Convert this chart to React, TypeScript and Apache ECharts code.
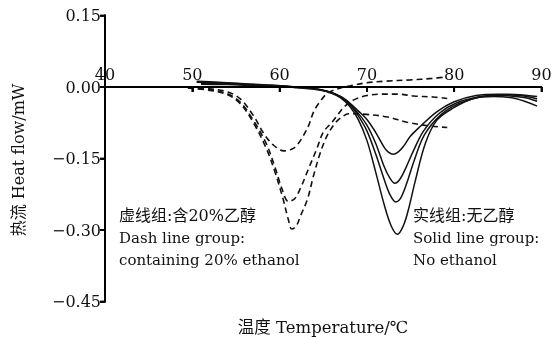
import React, { useEffect, useRef } from "react";
import * as echarts from "echarts";

// Temperature (°C) / heat flow (mW) pairs for each DSC run.
// Solid lines: samples without ethanol.
const solidA: [number, number][] = [
  [50.5, 0.012], [53, 0.01], [56, 0.007], [59, 0.004], [62, 0.0], [64, -0.003],
  [65.5, -0.009], [67, -0.02], [68, -0.033], [69, -0.05], [70, -0.068], [71, -0.095],
  [72, -0.127], [72.5, -0.137], [73, -0.141], [73.6, -0.136], [74.2, -0.124], [75, -0.103],
  [76.1, -0.083], [78, -0.052], [80, -0.031], [82.5, -0.018], [85, -0.015], [87.5, -0.016],
  [89.5, -0.02],
];
const solidB: [number, number][] = [
  [50.5, 0.01], [53, 0.009], [56, 0.006], [59, 0.003], [62, -0.001], [64, -0.004],
  [65.5, -0.01], [67, -0.021], [68, -0.035], [69, -0.055], [70, -0.08], [71, -0.118],
  [72, -0.168], [72.6, -0.19], [73.2, -0.202], [73.8, -0.193], [74.5, -0.168], [75.3, -0.135],
  [76.5, -0.092], [78.3, -0.055], [80.3, -0.033], [83, -0.02], [85.5, -0.016], [88, -0.019],
  [89.5, -0.025],
];
const solidC: [number, number][] = [
  [51, 0.008], [54, 0.007], [57, 0.004], [60, 0.002], [62.5, -0.001], [64.5, -0.005],
  [66, -0.012], [67, -0.022], [68, -0.036], [69, -0.06], [70, -0.092], [71, -0.14],
  [72, -0.195], [72.7, -0.228], [73.3, -0.241], [73.9, -0.232], [74.6, -0.2], [75.4, -0.155],
  [76.6, -0.1], [78.5, -0.058], [80.5, -0.035], [83, -0.021], [85.5, -0.018], [88, -0.022],
  [89.5, -0.03],
];
const solidD: [number, number][] = [
  [51, 0.006], [54, 0.005], [57, 0.003], [60, 0.001], [62.5, -0.002], [64.5, -0.006],
  [66, -0.013], [67, -0.023], [68, -0.04], [69, -0.068], [70, -0.112], [71, -0.178],
  [72, -0.248], [72.8, -0.292], [73.5, -0.309], [74.2, -0.29], [74.8, -0.254], [75.5, -0.2],
  [76.7, -0.118], [78, -0.07], [79.9, -0.044], [82.2, -0.024], [84.5, -0.02], [87, -0.024],
  [89.5, -0.04],
];

// Dashed lines: samples containing 20% ethanol.
const dashA: [number, number][] = [
  [49.5, -0.001], [52, -0.004], [54, -0.01], [55.5, -0.025], [57, -0.06], [58.2, -0.098],
  [59.3, -0.122], [60.5, -0.134], [61.3, -0.131], [62, -0.122], [63.2, -0.086], [63.9, -0.052],
  [64.5, -0.034], [65.5, -0.013], [67, -0.002], [68.5, 0.004], [70, 0.009], [72, 0.012],
  [75, 0.015], [77.5, 0.018], [79, 0.021],
];
const dashB: [number, number][] = [
  [49.5, -0.002], [52, -0.006], [54, -0.014], [55.5, -0.032], [57, -0.07], [58.5, -0.12],
  [59.5, -0.17], [60.3, -0.215], [61, -0.24], [61.7, -0.235], [62.4, -0.212], [63.3, -0.172],
  [64.3, -0.128], [65, -0.095], [66, -0.074], [66.8, -0.055], [67.5, -0.04], [68.5, -0.027],
  [70, -0.018], [71.6, -0.015], [73.5, -0.015], [75.4, -0.019], [77.6, -0.021], [79.2, -0.024],
];
const dashC: [number, number][] = [
  [49.5, -0.002], [52, -0.007], [54, -0.016], [55.5, -0.035], [57, -0.075], [58.5, -0.13],
  [59.5, -0.18], [60.4, -0.235], [61, -0.278], [61.4, -0.298], [61.9, -0.292], [62.4, -0.27],
  [63.2, -0.235], [63.9, -0.185], [64.7, -0.136], [65.5, -0.1], [66.4, -0.075], [67.2, -0.062],
  [67.9, -0.056], [69.6, -0.057], [72.4, -0.063], [74.6, -0.074], [77.3, -0.082], [79.2, -0.085],
];

const solidRuns = [solidA, solidB, solidC, solidD];
const dashRuns = [dashA, dashB, dashC];

// Axis ranges and tick values
const X_MIN = 40;
const X_MAX = 90;
const X_STEP = 10;
const Y_MIN = -0.45;
const Y_MAX = 0.15;
const Y_STEP = 0.15;
const xTicks = [40, 50, 60, 70, 80, 90];
const yTicks = [-0.45, -0.3, -0.15, 0, 0.15];

const dashNote = ["虚线组:含20%乙醇", "Dash line group:", "containing 20% ethanol"];
const solidNote = ["实线组:无乙醇", "Solid line group:", "No ethanol"];
const xTitle = "温度 Temperature/℃";
const yTitle = "热流 Heat flow/mW";

const FONT = "'DejaVu Serif', 'Noto Sans CJK SC', serif";
const INK = "#111";
const AXIS_INK = "#000";
const W = 560;
const H = 337;
const GRID = { left: 105, right: 18.5, top: 15.5, bottom: 35.5 };
const TICK = 5;

function noteLines(lines: string[], x: number, y0: number) {
  return lines.map((t, i) => ({
    type: "text",
    x,
    y: y0 + i * 22.5,
    style: {
      text: t,
      fill: INK,
      fontSize: i === 0 ? 16 : 15,
      fontFamily: FONT,
      align: "left",
      verticalAlign: "middle",
    },
  }));
}

export default function App() {
  const ref = useRef<HTMLDivElement>(null);

  useEffect(() => {
    if (!ref.current) return;
    const chart = echarts.init(ref.current, null, { renderer: "svg" });

    const series: any[] = [];
    solidRuns.forEach((d) => {
      series.push({
        type: "line",
        data: d,
        smooth: 0.35,
        showSymbol: false,
        lineStyle: { color: INK, width: 1.5 },
      });
    });
    dashRuns.forEach((d) => {
      series.push({
        type: "line",
        data: d,
        smooth: 0.35,
        showSymbol: false,
        lineStyle: { color: INK, width: 1.6, type: [6, 4] },
      });
    });

    // Axis frame: vertical axis on the left edge, temperature axis on the zero line,
    // both with their tick marks, placed through the grid's coordinate system.
    series.push({
      type: "custom",
      silent: true,
      clip: false,
      z: 10,
      data: [[X_MIN, 0]],
      renderItem: (_params: any, api: any) => {
        const st = { stroke: AXIS_INK, lineWidth: 1.8, fill: null };
        const kids: any[] = [];
        const yb = api.coord([X_MIN, Y_MIN]);
        const yt = api.coord([X_MIN, Y_MAX]);
        kids.push({ type: "line", shape: { x1: yb[0], y1: yb[1] + 0.9, x2: yt[0], y2: yt[1] - 0.9 }, style: st });
        yTicks.forEach((v) => {
          const p = api.coord([X_MIN, v]);
          kids.push({ type: "line", shape: { x1: p[0] - TICK, y1: p[1], x2: p[0], y2: p[1] }, style: st });
        });
        const xa = api.coord([X_MIN, 0]);
        const xb = api.coord([X_MAX, 0]);
        kids.push({ type: "line", shape: { x1: xa[0], y1: xa[1], x2: xb[0], y2: xb[1] }, style: st });
        xTicks.forEach((v) => {
          const p = api.coord([v, 0]);
          kids.push({ type: "line", shape: { x1: p[0], y1: p[1], x2: p[0], y2: p[1] + TICK }, style: st });
        });
        return { type: "group", children: kids };
      },
    });

    const plotH = H - GRID.top - GRID.bottom;
    const zeroOffset = -plotH * (Y_MAX / (Y_MAX - Y_MIN));

    chart.setOption({
      animation: false,
      grid: GRID,
      xAxis: {
        type: "value",
        min: X_MIN,
        max: X_MAX,
        interval: X_STEP,
        position: "top",
        // shifted down onto the zero heat-flow line; numbers sit above it
        offset: zeroOffset,
        axisLine: { show: true, onZero: false, lineStyle: { color: AXIS_INK, width: 1.8 } },
        axisTick: { show: true, inside: true, length: TICK, lineStyle: { color: AXIS_INK, width: 1.8 } },
        axisLabel: { color: INK, fontSize: 16, fontFamily: FONT, margin: 5 },
        splitLine: { show: false },
      },
      yAxis: {
        type: "value",
        min: Y_MIN,
        max: Y_MAX,
        interval: Y_STEP,
        axisLine: { show: true, lineStyle: { color: AXIS_INK, width: 1.8 } },
        axisTick: { show: true, length: TICK, lineStyle: { color: AXIS_INK, width: 1.8 } },
        axisLabel: {
          color: INK,
          fontSize: 16,
          fontFamily: FONT,
          margin: 4,
          formatter: (v: number) => v.toFixed(2).replace("-", "\u2212"),
        },
        splitLine: { show: false },
      },
      graphic: [
        ...noteLines(dashNote, 119, 215),
        ...noteLines(solidNote, 413, 215),
        {
          type: "text",
          x: 323,
          y: 327,
          style: {
            text: xTitle,
            fill: INK,
            fontSize: 16.5,
            fontFamily: FONT,
            align: "center",
            verticalAlign: "middle",
          },
        },
        {
          type: "text",
          x: 18,
          y: 160,
          rotation: Math.PI / 2,
          style: {
            text: yTitle,
            fill: INK,
            fontSize: 16,
            fontFamily: FONT,
            align: "center",
            verticalAlign: "middle",
          },
        },
      ],
      series,
    });

    return () => chart.dispose();
  }, []);

  return <div ref={ref} style={{ position: "fixed", left: 0, top: 0, width: W, height: H }} />;
}
